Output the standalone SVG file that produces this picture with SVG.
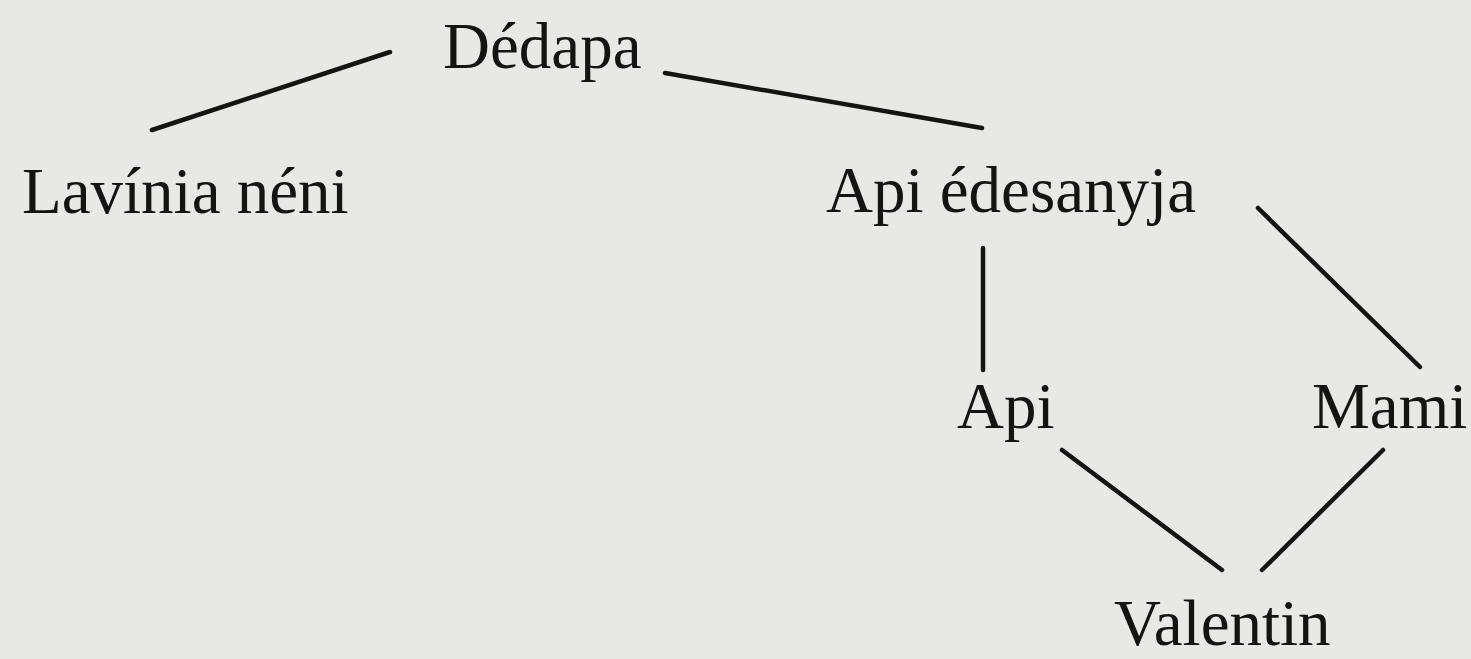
<svg xmlns="http://www.w3.org/2000/svg" width="1471" height="659" viewBox="0 0 1471 659">
<style>
.t{font-family:"Liberation Serif","Times New Roman",serif;font-size:65px;fill:#141414}
.c line{stroke:#141414;stroke-width:4.5;stroke-linecap:round}
</style>
<rect width="1471" height="659" fill="#e8e8e6"/>
<g id="connectors" class="c">
<line x1="152" y1="130" x2="390" y2="52"/>
<line x1="665" y1="73" x2="982" y2="128"/>
<line x1="983" y1="248" x2="983" y2="370"/>
<line x1="1258" y1="208" x2="1420" y2="367"/>
<line x1="1062" y1="450" x2="1222" y2="570"/>
<line x1="1383" y1="450" x2="1262" y2="570"/>
</g>
<g id="dedapa"><text class="t" x="443" y="68">Dédapa</text></g>
<g id="lavinia"><text class="t" x="22" y="213">Lavínia néni</text></g>
<g id="api-edesanyja"><text class="t" x="826" y="212">Api édesanyja</text></g>
<g id="api"><text class="t" x="957" y="428">Api</text></g>
<g id="mami"><text class="t" x="1312" y="428">Mami</text></g>
<g id="valentin"><text class="t" x="1114" y="645">Valentin</text></g>
</svg>
